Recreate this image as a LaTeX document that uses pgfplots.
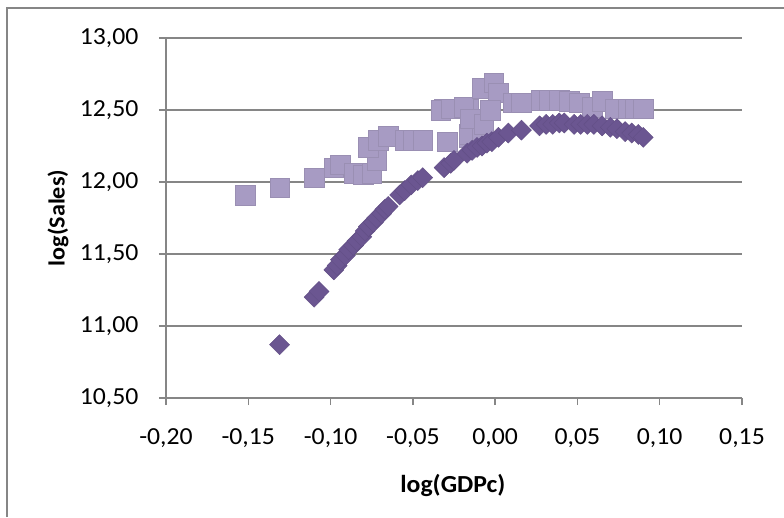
\documentclass[border=0pt]{standalone}
\usepackage{fontspec}
\setmainfont{Carlito}[FakeStretch=1.05]
\usepackage{pgfplots}
\pgfplotsset{compat=1.18}
\definecolor{axgray}{HTML}{868686}
\definecolor{sqcol}{HTML}{A79BC3}
\definecolor{dmcol}{HTML}{6B5691}
\begin{document}
\begin{tikzpicture}[x=1pt,y=1pt]
\path[use as bounding box] (0,0) rectangle (784,517);
\draw[axgray, line width=2pt] (7,0) -- (7,509) -- (784,509);
\begin{axis}[
  at={(166pt,119pt)}, anchor=south west,
  scale only axis, width=576pt, height=360pt,
  xmin=-0.2, xmax=0.15, ymin=10.5, ymax=13,
  xtick={-0.2,-0.15,-0.1,-0.05,0,0.05,0.1,0.15},
  ytick={10.5,11,11.5,12,12.5,13},
  axis x line*=bottom, axis y line*=left,
  axis line style={-, draw=axgray, line width=1.3pt},
  tick align=outside, major tick length=7pt,
  tick style={axgray, line width=1.3pt},
  ymajorgrids, grid style={axgray, line width=1.3pt},
  /pgf/number format/.cd, fixed, fixed zerofill, precision=2, use comma, assume math mode=true,
  /pgfplots/.cd,
  ticklabel style={font=\fontsize{24.5}{28}\selectfont, text=black},
  yticklabel style={xshift=-17pt},
  xticklabel style={yshift=-20pt},
  xlabel={\fontsize{24.5}{28}\selectfont\bfseries log(GDPc)},
  ylabel={\fontsize{23}{26}\selectfont\bfseries log(Sales)},
  xlabel style={at={(axis description cs:0.498,-0.242)}, anchor=center},
  ylabel style={at={(axis description cs:-0.1875,0.5)}, anchor=center},
  clip=false,
]
\addplot[only marks, mark=square*, mark size=9.8pt, mark options={fill=sqcol, draw=sqcol!92!black, line width=0.4pt}] coordinates {
(-0.152,11.91) (-0.131,11.96) (-0.110,12.03) (-0.098,12.10) (-0.094,12.12)
(-0.086,12.06) (-0.080,12.05) (-0.075,12.06) (-0.072,12.15) (-0.077,12.24)
(-0.071,12.29) (-0.065,12.32) (-0.055,12.29) (-0.050,12.29) (-0.044,12.29)
(-0.029,12.28) (-0.031,12.51) (-0.033,12.50) (-0.027,12.51) (-0.016,12.51)
(-0.019,12.52) (-0.016,12.31) (-0.016,12.33) (-0.008,12.35) (-0.015,12.44)
(-0.007,12.40) (-0.008,12.65) (-0.001,12.69) (0.002,12.62) (-0.003,12.50)
(0.011,12.55) (0.016,12.55) (0.028,12.57) (0.033,12.57) (0.039,12.57)
(0.045,12.56) (0.051,12.55) (0.059,12.52) (0.065,12.56) (0.073,12.51)
(0.081,12.51) (0.085,12.51) (0.090,12.51)
};
\addplot[only marks, mark=square*, mark size=7.1pt, mark options={rotate=45, fill=dmcol, draw=dmcol!92!black, line width=0.4pt}] coordinates {
(-0.131,10.87) (-0.110,11.20) (-0.107,11.24)
(-0.098,11.39) (-0.096,11.42) (-0.094,11.46) (-0.091,11.49) (-0.089,11.53)
(-0.086,11.56) (-0.084,11.59) (-0.081,11.62) (-0.079,11.66) (-0.077,11.69)
(-0.074,11.72) (-0.072,11.75) (-0.069,11.78) (-0.067,11.81) (-0.065,11.83)
(-0.058,11.91) (-0.055,11.94) (-0.051,11.98) (-0.047,12.01) (-0.044,12.03)
(-0.031,12.10) (-0.027,12.13) (-0.025,12.15)
(-0.017,12.20) (-0.014,12.22) (-0.011,12.24) (-0.008,12.25) (-0.005,12.27) (-0.002,12.28)
(0.002,12.31) (0.008,12.34) (0.016,12.36)
(0.027,12.39) (0.031,12.40) (0.035,12.40) (0.039,12.41) (0.042,12.41)
(0.048,12.40) (0.052,12.40) (0.056,12.40) (0.060,12.40) (0.065,12.39)
(0.070,12.38) (0.074,12.37) (0.079,12.35) (0.083,12.34) (0.087,12.33) (0.090,12.31)
};
\end{axis}
\end{tikzpicture}
\end{document}
